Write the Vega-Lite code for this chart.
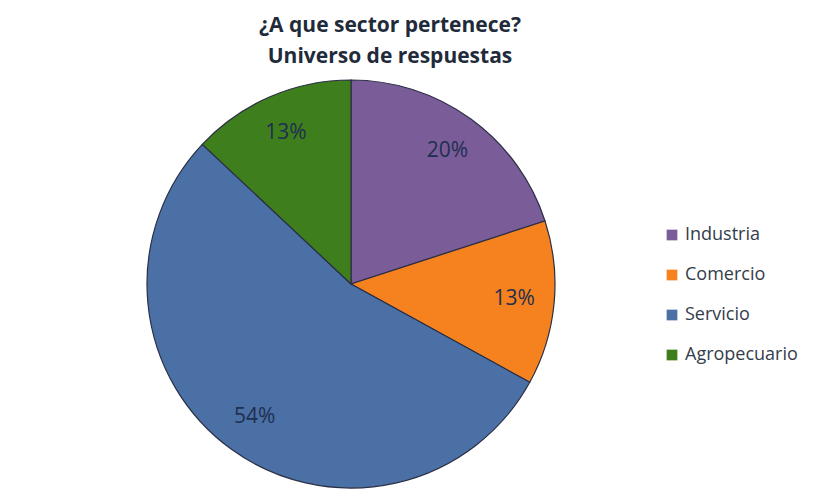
{
  "$schema": "https://vega.github.io/schema/vega-lite/v6.json",
  "width": 408,
  "height": 408,
  "autosize": {"type": "none"},
  "padding": {"left": 147, "top": 80, "right": 276, "bottom": 4},
  "background": "white",
  "title": {
    "text": ["¿A que sector pertenece?", "Universo de respuestas"],
    "font": "Open Sans",
    "fontSize": 21,
    "fontWeight": "bold",
    "color": "#1F2B3A",
    "anchor": "middle",
    "dx": 39,
    "offset": 11,
    "lineHeight": 31
  },
  "data": {
    "values": [
      {"sector": "Industria", "pct": 20, "label": "20%", "i": 1},
      {"sector": "Comercio", "pct": 13, "label": "13%", "i": 2},
      {"sector": "Servicio", "pct": 54, "label": "54%", "i": 3},
      {"sector": "Agropecuario", "pct": 13, "label": "13%", "i": 4}
    ]
  },
  "encoding": {
    "theta": {"field": "pct", "type": "quantitative", "stack": true},
    "order": {"field": "i", "type": "quantitative"},
    "color": {
      "field": "sector",
      "type": "nominal",
      "scale": {
        "domain": ["Industria", "Comercio", "Servicio", "Agropecuario"],
        "range": ["#7A5C98", "#F5821F", "#4A70A6", "#3F7E1D"]
      },
      "legend": {
        "title": null,
        "orient": "none",
        "legendX": 516,
        "legendY": 146,
        "symbolType": "square",
        "symbolSize": 115,
        "symbolStrokeWidth": 0,
        "labelFont": "Open Sans",
        "labelFontSize": 18,
        "labelColor": "#333d4a",
        "labelOffset": 4,
        "rowPadding": 22
      }
    }
  },
  "layer": [
    {
      "mark": {"type": "arc", "outerRadius": 204, "stroke": "#2b2f45", "strokeWidth": 1.2}
    },
    {
      "mark": {"type": "text", "radius": 164, "font": "Open Sans", "fontSize": 21, "fill": "#1F2F4F"},
      "encoding": {
        "text": {"field": "label"},
        "color": {"value": "#1F2F4F"}
      }
    }
  ],
  "config": {"view": {"stroke": null}}
}
